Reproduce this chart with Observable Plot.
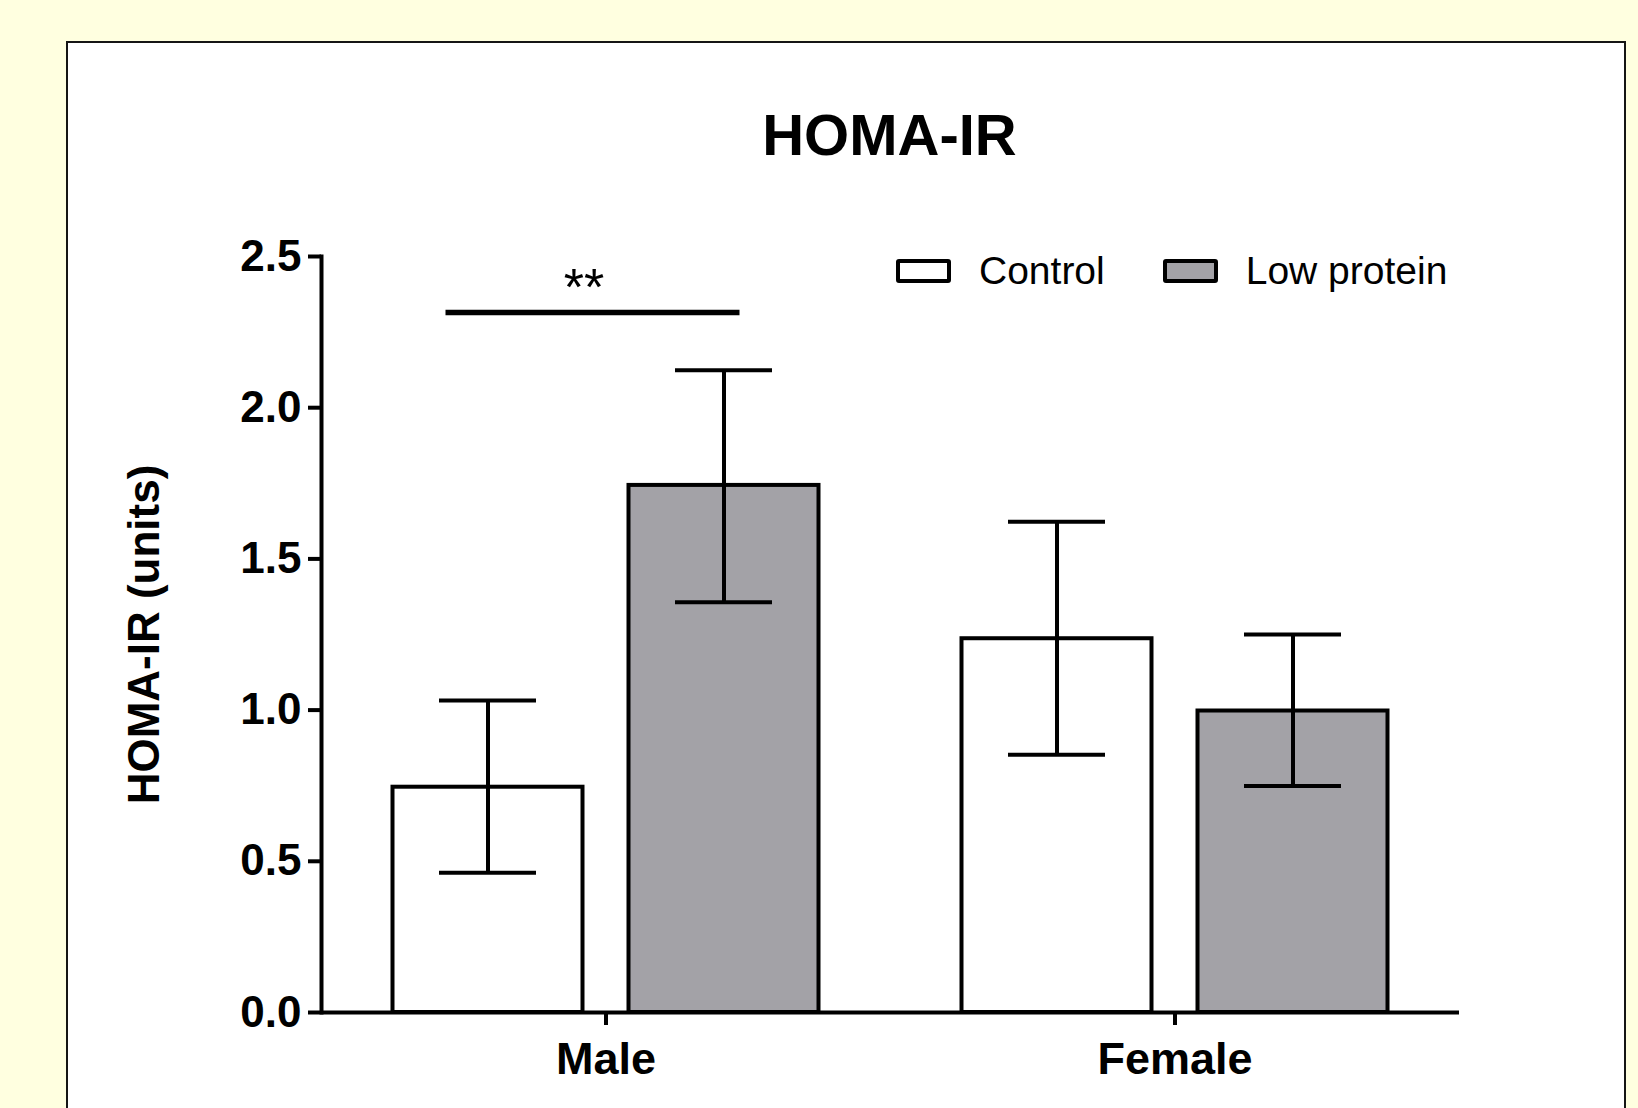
<!DOCTYPE html>
<html>
<head>
<meta charset="utf-8">
<script src="https://cdn.jsdelivr.net/npm/d3@7"></script>
<script src="https://cdn.jsdelivr.net/npm/@observablehq/plot@0.6"></script>
<style>
html, body { margin: 0; padding: 0; width: 1638px; height: 1108px; overflow: hidden; background: #ffffe0; font-family: "Liberation Sans", Arial, Helvetica, sans-serif; color: #000; }
#panel { position: absolute; left: 66px; top: 41px; width: 1560px; height: 1200px; box-sizing: border-box; border: 2px solid #151515; background: #fff; }
#title { position: absolute; left: 320px; width: 1139px; top: 106px; text-align: center; font-size: 58px; line-height: 58px; font-weight: bold; }
#legend { position: absolute; left: 896px; top: 251px; display: flex; align-items: center; font-size: 39px; line-height: 39px; }
#legend .item { display: flex; align-items: center; }
#legend .sw { width: 55px; height: 24px; box-sizing: border-box; border: 4.5px solid #000; border-radius: 3px; margin-right: 28px; }
#chart { position: absolute; left: 0; top: 200px; }
</style>
</head>
<body>
<div id="panel"></div>
<div id="title"></div>
<div id="legend"></div>
<div id="chart"></div>
<script>
// ---- data ----
const titleText = "HOMA-IR";
const yLabel = "HOMA-IR (units)";
const sexes = ["Male", "Female"];
const groups = ["Control", "Low protein"];
const colors = ["#ffffff", "#a3a2a7"];
// order: Male-Control, Male-Low protein, Female-Control, Female-Low protein
const means   = [0.745, 1.743, 1.236, 0.997];
const errLow  = [0.462, 1.357, 0.852, 0.749];
const errHigh = [1.032, 2.124, 1.623, 1.250];
const yTicks = [0, 0.5, 1.0, 1.5, 2.0, 2.5];
const sigSex = ["Male"];
const sigLevel = [2.315];
const sigLabelLevel = [2.395];
const sigText = ["**"];

const rows = [];
sexes.forEach((s, i) => groups.forEach((g, j) => {
  const k = i * groups.length + j;
  rows.push({sex: s, group: g, mean: means[k], low: errLow[k], high: errHigh[k]});
}));
const sig = sigSex.map((s, i) => ({sex: s, from: groups[0], to: groups[1], y: sigLevel[i], labelY: sigLabelLevel[i], label: sigText[i]}));

document.getElementById("title").textContent = titleText;
const legend = document.getElementById("legend");
groups.forEach((g, i) => {
  const item = document.createElement("div");
  item.className = "item";
  item.style.marginRight = i === 0 ? "58px" : "0";
  const sw = document.createElement("div");
  sw.className = "sw";
  sw.style.background = colors[i];
  const t = document.createElement("span");
  t.textContent = g;
  item.appendChild(sw); item.appendChild(t);
  legend.appendChild(item);
});

const sw = 4;
const chart = Plot.plot({
  width: 1638,
  height: 908,
  marginTop: 56,
  marginBottom: 96,
  marginLeft: 320.5,
  marginRight: 179,
  style: {fontFamily: "'Liberation Sans', Arial, Helvetica, sans-serif", color: "#000", background: "transparent", overflow: "visible"},
  fx: {domain: sexes, padding: 0, label: null},
  x: {domain: groups, paddingInner: 0.194, paddingOuter: 0.298, axis: null},
  y: {domain: [0, 2.5], label: yLabel},
  color: {domain: groups, range: colors},
  marks: [
    Plot.barY(rows, {fx: "sex", x: "group", y: "mean", fill: "group", stroke: "#000", strokeWidth: sw}),
    Plot.ruleX(rows, {fx: "sex", x: "group", y1: "low", y2: "high", stroke: "#000", strokeWidth: sw}),
    Plot.tickY(rows, {fx: "sex", x: "group", y: "high", stroke: "#000", strokeWidth: sw, insetLeft: 46.5, insetRight: 46.5}),
    Plot.tickY(rows, {fx: "sex", x: "group", y: "low", stroke: "#000", strokeWidth: sw, insetLeft: 46.5, insetRight: 46.5}),
    Plot.ruleY(sig, {fx: "sex", x1: "from", x2: "to", y: "y", stroke: "#000", strokeWidth: 5.5, insetLeft: 53, insetRight: 79}),
    Plot.text(sig, {fx: "sex", y: "labelY", text: "label", fontSize: 52, dx: -22, fill: "#000"}),
    Plot.ruleY([0], {stroke: "#000", strokeWidth: sw}),
    Plot.frame({anchor: "left", facet: "super", stroke: "#000", strokeWidth: sw}),
    Plot.axisY({ticks: yTicks, tickFormat: d3.format(".1f"), tickSize: 13, tickPadding: 7, fontSize: 44, fontWeight: "bold", stroke: "#000", strokeWidth: sw, fill: "#000",
      label: yLabel, labelAnchor: "center", labelOffset: 193.5, labelArrow: "none"}),
    Plot.axisFx({anchor: "bottom", tickSize: 13, tickPadding: 17, fontSize: 45, fontWeight: "bold", stroke: "#000", strokeWidth: sw, fill: "#000", label: null})
  ]
});
document.getElementById("chart").appendChild(chart);
</script>
</body>
</html>
